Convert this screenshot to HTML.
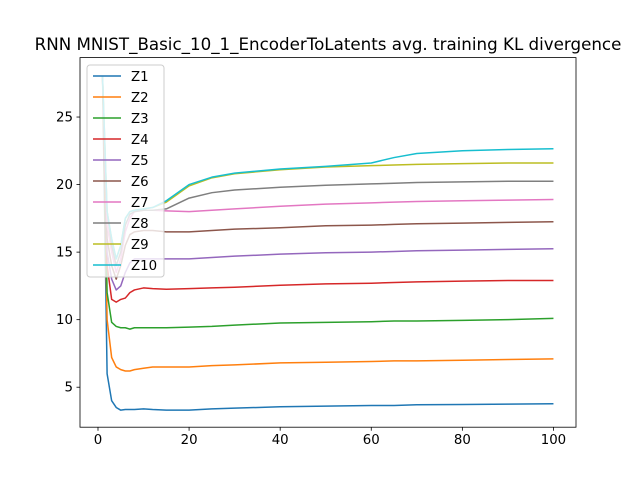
<!DOCTYPE html>
<html><head><meta charset="utf-8"><style>body{margin:0;background:#fff}svg{display:block;font-family:"DejaVu Sans","Liberation Sans",sans-serif}</style></head>
<body>
<svg id="c" width="640" height="480"></svg>
<script>
const epochs=[1,2,3,4,5,6,7,8,10,12,15,20,25,30,40,50,60,65,70,80,90,100];
const seriesNames=["Z1","Z2","Z3","Z4","Z5","Z6","Z7","Z8","Z9","Z10"];
const z1=[28,6,4,3.5,3.3,3.35,3.35,3.35,3.4,3.35,3.3,3.3,3.4,3.45,3.55,3.6,3.65,3.65,3.7,3.72,3.75,3.78];
const z2=[28,10,7.2,6.5,6.3,6.2,6.2,6.3,6.4,6.5,6.5,6.5,6.6,6.65,6.8,6.85,6.9,6.95,6.95,7.0,7.05,7.1];
const z3=[28,12,9.8,9.5,9.4,9.4,9.3,9.4,9.4,9.4,9.4,9.45,9.5,9.6,9.75,9.8,9.85,9.9,9.9,9.95,10.0,10.1];
const z4=[28,14,11.5,11.3,11.5,11.6,12.0,12.2,12.35,12.3,12.25,12.3,12.35,12.4,12.55,12.65,12.7,12.75,12.8,12.85,12.9,12.9];
const z5=[28,15,13,12.2,12.5,13.5,14.2,14.5,14.5,14.5,14.5,14.5,14.6,14.7,14.85,14.95,15.0,15.05,15.1,15.15,15.2,15.25];
const z6=[28,16,14,13,14,15.5,16.3,16.5,16.6,16.6,16.5,16.5,16.6,16.7,16.8,16.95,17.0,17.05,17.1,17.15,17.2,17.25];
const z7=[28,17,15,13.5,14.5,16.5,17.5,18,18.1,18.1,18.05,18.0,18.1,18.2,18.4,18.55,18.65,18.7,18.75,18.8,18.85,18.9];
const z8=[28,18,15.5,14,15,17,17.8,18,18.1,18.1,18.2,19,19.4,19.6,19.8,19.95,20.05,20.1,20.15,20.2,20.25,20.25];
const z9=[28,18,16,14.5,15.5,17.5,18,18.1,18.2,18.3,18.7,19.9,20.5,20.8,21.1,21.3,21.4,21.45,21.5,21.55,21.6,21.6];
const z10=[28,18,16,14.5,15.5,17.5,18,18.1,18.2,18.3,18.8,20.0,20.55,20.85,21.15,21.35,21.6,22.0,22.3,22.5,22.6,22.65];
const xTicks=[0,20,40,60,80,100];
const yTicks=[5,10,15,20,25];
const colors=["#1f77b4","#ff7f0e","#2ca02c","#d62728","#9467bd","#8c564b","#e377c2","#7f7f7f","#bcbd22","#17becf"];
const all=[z1,z2,z3,z4,z5,z6,z7,z8,z9,z10];
const L=80,R=576,T=57.6,B=427.2,xmin=-3.95,xmax=104.95,ymin=2.04,ymax=29.4;
const X=v=>L+(v-xmin)/(xmax-xmin)*(R-L);
const Y=v=>B-(v-ymin)/(ymax-ymin)*(B-T);
const svg=document.getElementById('c');const NS="http://www.w3.org/2000/svg";
function mk(t,a,p){const e=document.createElementNS(NS,t);for(const k in a)e.setAttribute(k,a[k]);(p||svg).appendChild(e);return e;}
const clip=mk('clipPath',{id:'cp'});mk('rect',{x:L,y:T,width:R-L,height:B-T},clip);
const g=mk('g',{'clip-path':'url(#cp)'});
all.forEach((s,i)=>{
 const p=mk('polyline',{points:s.map((v,j)=>X(epochs[j])+','+Y(v)).join(' '),fill:'none',stroke:colors[i],'stroke-width':1.5,'stroke-linejoin':'round'},g);
 
 
});
const frame=mk('rect',{x:L,y:T,width:R-L,height:B-T,fill:'none',stroke:'#000','stroke-width':0.8});

xTicks.forEach(v=>{mk('line',{x1:X(v),x2:X(v),y1:B,y2:B+3.5,stroke:'#000','stroke-width':0.8});
 const t=mk('text',{x:X(v),y:B+17,'text-anchor':'middle','font-size':'10pt'});t.textContent=v;
 });
yTicks.forEach(v=>{mk('line',{x1:L-3.5,x2:L,y1:Y(v),y2:Y(v),stroke:'#000','stroke-width':0.8});
 const t=mk('text',{x:L-7,y:Y(v)+4.5,'text-anchor':'end','font-size':'10pt'});t.textContent=v;
 });
const title=mk('text',{x:328,y:50,'text-anchor':'middle','font-size':'16.7px'});
title.textContent="RNN MNIST_Basic_10_1_EncoderToLatents avg. training KL divergence";

const lg=mk('g',{});
mk('rect',{x:87,y:65,width:77,height:212,rx:3,fill:'#fff','fill-opacity':0.8,stroke:'#ccc','stroke-width':1},lg);
seriesNames.forEach((n,i)=>{const y=76+i*21;
 const e=mk('g',{},lg);
 mk('line',{x1:93,x2:121,y1:y,y2:y,stroke:colors[i],'stroke-width':1.5},e);
 const t=mk('text',{x:131,y:y+5,'font-size':'10pt'},e);t.textContent=n;});
</script>
</body></html>
